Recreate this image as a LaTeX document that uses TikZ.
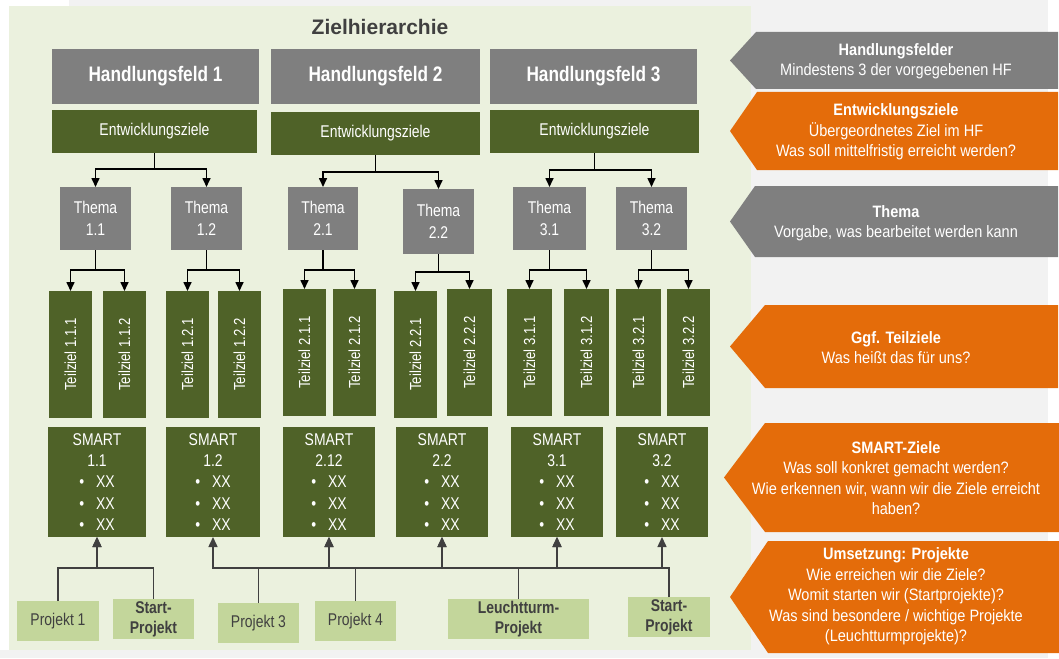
\documentclass[tikz,border=0pt]{standalone}
\usepackage{fontspec}
\usepackage{graphicx}
\setmainfont{Liberation Sans}
\newfontfamily\cf[FakeStretch=0.82]{Liberation Sans}
\newfontfamily\rf[FakeStretch=0.88]{Liberation Sans}
\usetikzlibrary{arrows.meta}
\definecolor{dgreen}{HTML}{4F6228}
\definecolor{bgray}{HTML}{7F7F7F}
\definecolor{orng}{HTML}{E46C0A}
\definecolor{lgreen}{HTML}{C3D69B}
\definecolor{panel}{HTML}{EBF1DE}
\definecolor{pgray}{HTML}{F2F2F2}
\definecolor{txt}{HTML}{404040}
\newcommand\smartbul{\textbullet\hspace{12pt}XX}
\begin{document}
\begin{tikzpicture}[x=1pt,y=-1pt,
  box/.style={inner sep=0pt, outer sep=0pt, align=center},
  hf/.style={box, fill=bgray, text=white, minimum width=207pt, minimum height=55pt, font=\cf\bfseries\fontsize{21}{25}\selectfont},
  ez/.style={box, fill=dgreen, text=white, minimum width=209pt, minimum height=43pt, font=\cf\fontsize{17}{21}\selectfont},
  th/.style={box, fill=bgray, text=white, minimum width=71pt, minimum height=63pt, font=\cf\fontsize{17}{22}\selectfont},
  tz/.style={box, fill=dgreen, text=white, minimum width=43pt, minimum height=127pt, font=\cf\fontsize{16}{19}\selectfont},
  sm/.style={box, fill=dgreen, text=white, minimum width=92pt, minimum height=110pt, font=\cf\fontsize{17}{21.3}\selectfont},
  pj/.style={box, fill=lgreen, text=txt, minimum width=82pt, minimum height=40pt, font=\cf\fontsize{17}{20}\selectfont},
  pjb/.style={pj, font=\cf\bfseries\fontsize{17}{20}\selectfont},
  rt/.style={box, text=white, font=\rf\fontsize{16.5}{20.5}\selectfont},
  arr/.style={draw=black, line width=1.6pt, -{Triangle[width=8pt,length=9pt]}},
  barr/.style={draw=txt, line width=1.5pt, -{Triangle[width=9pt,length=10pt]}}
]
\useasboundingbox (0,0) rectangle (1059,658);
% backgrounds
\fill[pgray] (69,0) rectangle (1048,658);
\fill[pgray] (0,650) rectangle (69,658);
\fill[panel] (9,6) rectangle (751,650);
\node[box, text=txt, font=\bfseries\fontsize{21}{25}\selectfont] (title) at (380,27) {Zielhierarchie};

% Handlungsfelder
\node[hf] (hf1) at (155.5,76.5) {Handlungsfeld 1};
\node[hf, minimum width=209pt] (hf2) at (375.5,76.5) {Handlungsfeld 2};
\node[hf] (hf3) at (593.5,76.5) {Handlungsfeld 3};

% Entwicklungsziele
\node[ez, minimum width=205pt] (ez1) at (154.5,131.5) {Entwicklungsziele};
\node[ez] (ez2) at (375.5,133.5) {Entwicklungsziele};
\node[ez] (ez3) at (594.5,131.5) {Entwicklungsziele};

% Themen
\node[th] (t11) at (95.5,218.5) {Thema\\1.1};
\node[th] (t12) at (206.5,218.5) {Thema\\1.2};
\node[th, minimum width=70pt] (t21) at (323,218.5) {Thema\\2.1};
\node[th, minimum height=65pt] (t22) at (438.5,221.5) {Thema\\2.2};
\node[th, minimum width=73pt] (t31) at (549.5,218.5) {Thema\\3.1};
\node[th] (t32) at (651.5,218.5) {Thema\\3.2};

% Teilziele
\node[tz] (z111) at (70.5,354.5) {\rotatebox{90}{Teilziel 1.1.1}};
\node[tz] (z112) at (124.5,354.5) {\rotatebox{90}{Teilziel 1.1.2}};
\node[tz] (z121) at (187.5,354.5) {\rotatebox{90}{Teilziel 1.2.1}};
\node[tz] (z122) at (239.5,354.5) {\rotatebox{90}{Teilziel 1.2.2}};
\node[tz] (z211) at (304.5,352.5) {\rotatebox{90}{Teilziel 2.1.1}};
\node[tz] (z212) at (354.5,352.5) {\rotatebox{90}{Teilziel 2.1.2}};
\node[tz] (z221) at (415.5,354.5) {\rotatebox{90}{Teilziel 2.2.1}};
\node[tz, minimum width=45pt] (z222) at (469.5,352.5) {\rotatebox{90}{Teilziel 2.2.2}};
\node[tz, minimum width=45pt] (z311) at (529.5,352.5) {\rotatebox{90}{Teilziel 3.1.1}};
\node[tz, minimum width=45pt] (z312) at (586.5,352.5) {\rotatebox{90}{Teilziel 3.1.2}};
\node[tz, minimum width=45pt] (z321) at (638.5,352.5) {\rotatebox{90}{Teilziel 3.2.1}};
\node[tz] (z322) at (688.5,352.5) {\rotatebox{90}{Teilziel 3.2.2}};

% SMART
\node[sm, minimum width=98pt] (s11) at (97,482) {SMART\\1.1\\\smartbul\\\smartbul\\\smartbul};
\node[sm, minimum width=94pt] (s12) at (213,482) {SMART\\1.2\\\smartbul\\\smartbul\\\smartbul};
\node[sm] (s212) at (329,482) {SMART\\2.12\\\smartbul\\\smartbul\\\smartbul};
\node[sm] (s22) at (442,482) {SMART\\2.2\\\smartbul\\\smartbul\\\smartbul};
\node[sm] (s31) at (557,482) {SMART\\3.1\\\smartbul\\\smartbul\\\smartbul};
\node[sm] (s32) at (662,482) {SMART\\3.2\\\smartbul\\\smartbul\\\smartbul};

% Projekte
\node[pj] (p1) at (58,621) {Projekt 1};
\node[pjb, minimum width=81pt] (st1) at (153.5,619) {Start-\\Projekt};
\node[pj, minimum width=81pt] (p3) at (258.5,623) {Projekt 3};
\node[pj, minimum width=81pt] (p4) at (355.5,621) {Projekt 4};
\node[pjb, minimum width=141pt] (lt) at (518.5,619) {Leuchtturm-\\Projekt};
\node[pjb] (st2) at (669,617) {Start-\\Projekt};

% connectors EZ -> Thema
\draw[arr] (ez1.south) -- ++(0,16) -| (t11.north);
\draw[arr] (ez1.south) -- ++(0,16) -| (t12.north);
\draw[arr] (ez2.south) -- ++(0,17) -| (t21.north);
\draw[arr] (ez2.south) -- ++(0,17) -| (t22.north);
\draw[arr] (ez3.south) -- ++(0,17) -| (t31.north);
\draw[arr] (ez3.south) -- ++(0,17) -| (t32.north);

% connectors Thema -> Teilziele
\draw[arr] (t11.south) -- ++(0,20) -| (z111.north);
\draw[arr] (t11.south) -- ++(0,20) -| (z112.north);
\draw[arr] (t12.south) -- ++(0,20) -| (z121.north);
\draw[arr] (t12.south) -- ++(0,20) -| (z122.north);
\draw[arr] (t21.south) -- ++(0,20) -| (z211.north);
\draw[arr] (t21.south) -- ++(0,20) -| (z212.north);
\draw[arr] (t22.south) -- ++(0,18) -| (z221.north);
\draw[arr] (t22.south) -- ++(0,18) -| (z222.north);
\draw[arr] (t31.south) -- ++(0,20) -| (z311.north);
\draw[arr] (t31.south) -- ++(0,20) -| (z312.north);
\draw[arr] (t32.south) -- ++(0,20) -| (z321.north);
\draw[arr] (t32.south) -- ++(0,20) -| (z322.north);

% connectors Projekte -> SMART
\coordinate (bus) at (0,568);
\draw[barr] (p1.north) -- (p1.north |- bus) -| (s11.south);
\draw[barr] (st1.north) -- (st1.north |- bus) -| (s11.south);
\draw[barr] (p3.north) -- (p3.north |- bus) -| (s12.south);
\draw[barr] (p3.north) -- (p3.north |- bus) -| (s212.south);
\draw[barr] (p4.north) -- (p4.north |- bus) -| (s212.south);
\draw[barr] (p4.north) -- (p4.north |- bus) -| (s22.south);
\draw[barr] (lt.north) -- (lt.north |- bus) -| (s22.south);
\draw[barr] (lt.north) -- (lt.north |- bus) -| (s31.south);
\draw[barr] (st2.north) -- (st2.north |- bus) -| (s31.south);
\draw[barr] (st2.north) -- (st2.north |- bus) -| (s32.south);

% right-hand arrows
\fill[bgray] (730,60.5) -- (756,32) -- (1058,32) -- (1058,89) -- (756,89) -- cycle;
\fill[orng] (730,131) -- (757,92) -- (1058,92) -- (1058,170) -- (757,170) -- cycle;
\fill[bgray] (730,221.5) -- (755,186) -- (1058,186) -- (1058,257) -- (755,257) -- cycle;
\fill[orng] (730,346.5) -- (765,305) -- (1058,305) -- (1058,388) -- (765,388) -- cycle;
\fill[orng] (724,477.5) -- (765,423) -- (1059,423) -- (1059,532) -- (765,532) -- cycle;
\fill[orng] (730,597) -- (768,541) -- (1059,541) -- (1059,653) -- (768,653) -- cycle;

\node[rt] (r1) at (896,61) {\textbf{Handlungsfelder}\\Mindestens 3 der vorgegebenen HF};
\node[rt] (r2) at (896,132) {\textbf{Entwicklungsziele}\\Übergeordnetes Ziel im HF\\Was soll mittelfristig erreicht werden?};
\node[rt] (r3) at (896,223) {\textbf{Thema}\\Vorgabe, was bearbeitet werden kann};
\node[rt] (r4) at (896,347.5) {\textbf{Ggf. Teilziele}\\Was heißt das für uns?};
\node[rt] (r5) at (896,478) {\textbf{SMART-Ziele}\\Was soll konkret gemacht werden?\\Wie erkennen wir, wann wir die Ziele erreicht\\haben?};
\node[rt] (r6) at (896,596.5) {\textbf{Umsetzung: Projekte}\\Wie erreichen wir die Ziele?\\Womit starten wir (Startprojekte)?\\Was sind besondere / wichtige Projekte\\(Leuchtturmprojekte)?};
\end{tikzpicture}
\end{document}
